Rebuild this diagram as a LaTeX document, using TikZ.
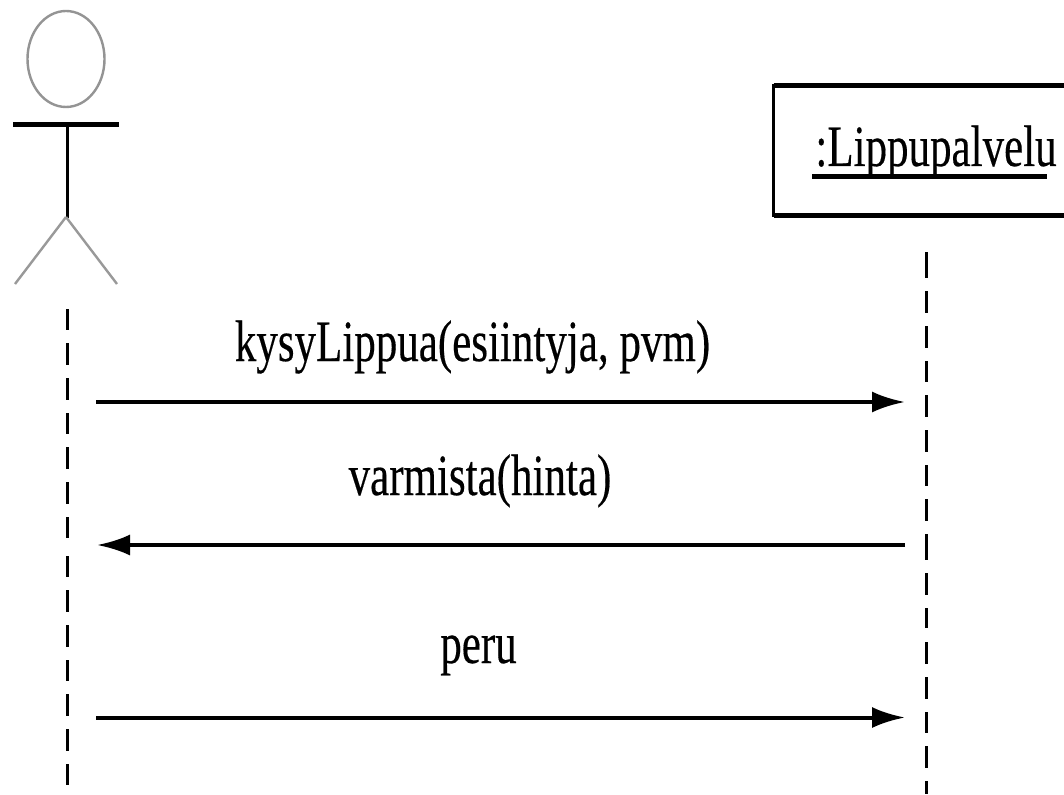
\documentclass[tikz,border=0pt]{standalone}
\usepackage{graphicx}
\usepackage{fontspec}
\newfontfamily\labfont[FakeBold=0.35]{Liberation Serif}
\usetikzlibrary{arrows.meta,shapes.geometric}
\newcommand{\tallprint}[1]{\scalebox{1}[1.36]{\labfont\fontsize{43pt}{50pt}\selectfont #1}}
\tikzset{
  msg/.style={line width=4pt,-{Latex[length=33pt,width=21pt]}},
  life/.style={line width=3pt},
  limb/.style={line width=2.4pt,draw=black!40},
  lab/.style={inner sep=0pt,text=black}
}
\begin{document}
\begin{tikzpicture}[x=1pt,y=-1pt]
\useasboundingbox (0,0) rectangle (1064,794);
\fill[white] (0,0) rectangle (1064,794);
% actor
\node[ellipse,draw=black!42,line width=2.4pt,minimum width=77pt,minimum height=96pt,inner sep=0pt] (head) at (66,59) {};
\coordinate (neck) at (67.5,124);
\coordinate (hip) at (67.5,218);
\coordinate (crotch) at (66,217);
\coordinate (armL) at (13,124.5);
\coordinate (armR) at (119,124.5);
\coordinate (legL) at (15,284);
\coordinate (legR) at (117,284);
\draw[line width=3pt] (neck) -- (hip);
\draw[line width=5pt] (armL) -- (armR);
\draw[limb] (crotch) -- (legL);
\draw[limb] (crotch) -- (legR);
% object
\node[draw,line width=3pt,minimum width=310pt,minimum height=130pt,anchor=north west,inner sep=0pt,outer sep=0pt] (box) at (773.5,85.5) {};
\draw[line width=5pt] (box.north west) -- (box.north east);
\draw[line width=5pt] (box.south west) -- (box.south east);
\node[lab,anchor=base] (name) at (936,166) {\tallprint{:Lippupalvelu}};
\coordinate (ulA) at (812,176.5);
\coordinate (ulB) at (1047,176.5);
\draw[line width=5pt] (ulA) -- (ulB);
% lifelines
\coordinate (a0) at (67.5,309);
\coordinate (a1) at (67.5,785);
\coordinate (b0) at (926.5,252);
\coordinate (b1) at (926.5,794);
\draw[life,dash pattern=on 21pt off 13pt on 22pt off 13pt on 22pt off 13pt on 21pt off 13pt on 22pt off 13pt on 22pt off 13pt on 21pt off 18pt on 21pt off 13pt on 22pt off 13pt on 22pt off 13pt on 21pt off 13pt on 22pt off 13pt on 22pt off 13pt on 21pt off 13pt] (a0) -- (a1);
\draw[life,dash pattern=on 26pt off 13pt on 22pt off 13pt on 22pt off 13pt on 21pt off 13pt on 22pt off 13pt on 22pt off 13pt on 21pt off 13pt on 22pt off 13pt on 26pt off 13pt on 22pt off 13pt on 20pt off 14pt on 22pt off 13pt on 22pt off 13pt on 21pt off 13pt on 22pt off 13pt on 20pt off 13pt] (b0) -- (b1);
% messages
\coordinate (m1a) at (96,402);
\coordinate (m1b) at (905,402);
\coordinate (m2a) at (905,545);
\coordinate (m2b) at (97,545);
\coordinate (m3a) at (96,717.5);
\coordinate (m3b) at (905,717.5);
\draw[msg] (m1a) -- (m1b);
\draw[msg] (m2a) -- (m2b);
\draw[msg] (m3a) -- (m3b);
\node[lab,anchor=base] (t1) at (472.5,361) {\tallprint{kysyLippua(esiintyja, pvm)}};
\node[lab,anchor=base] (t2) at (480,495) {\tallprint{varmista(hinta)}};
\node[lab,anchor=base] (t3) at (478.5,663) {\tallprint{peru}};
\end{tikzpicture}
\end{document}
